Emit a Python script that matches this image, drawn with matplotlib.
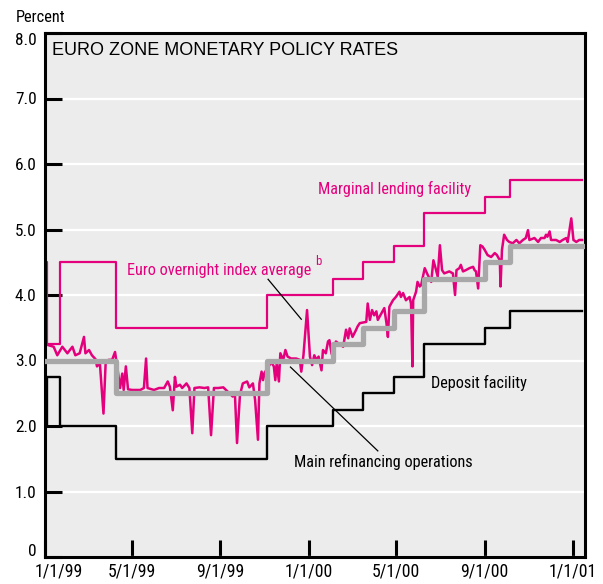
import numpy as np
import pandas as pd
import matplotlib
matplotlib.use("Agg")
import matplotlib.pyplot as plt
from matplotlib import font_manager
from matplotlib.transforms import ScaledTranslation

# policy rate changes (effective dates) and levels, percent
rate_dates = [
    "1999-01-01", "1999-01-04", "1999-01-22", "1999-04-09", "1999-11-05",
    "2000-02-04", "2000-03-17", "2000-04-28", "2000-06-09", "2000-09-01",
    "2000-10-06",
]
marginal_lending = [4.50, 3.25, 4.50, 3.50, 4.00, 4.25, 4.50, 4.75, 5.25, 5.50, 5.75]
deposit_facility = [2.00, 2.75, 2.00, 1.50, 2.00, 2.25, 2.50, 2.75, 3.25, 3.50, 3.75]
main_refi = [3.00, 3.00, 3.00, 2.50, 3.00, 3.25, 3.50, 3.75, 4.25, 4.50, 4.75]
series_end = "2001-01-14"

# EONIA (days after 1 Jan 1999)
eonia_day = [
    3, 12, 17, 24, 31, 38, 42, 48, 54, 56, 61, 65, 70, 72, 76, 81, 84, 88, 93, 97,
    100, 104, 107, 109, 112, 115, 121, 132, 137, 140, 142, 151, 158, 165, 170, 173, 177,
    180, 182, 187, 190, 196, 200, 204, 207, 214, 221, 226, 230, 234, 240, 247, 260,
    263, 266, 270, 274, 280, 283, 288, 291, 295, 297, 300, 302, 304, 311, 313, 317,
    319, 321, 324, 326, 330, 333, 336, 341, 348, 353, 355, 358, 363,
    367, 370, 373, 376, 379, 383, 385, 389, 392, 394, 397, 403, 413, 417, 420, 422,
    426, 431, 433, 436, 445, 447, 450, 453, 456, 459, 461, 466, 470, 473, 475, 477,
    482, 486, 491, 493, 496, 500, 505, 507, 509, 510, 514, 516, 519,
    521, 526, 530, 535, 538, 541, 544, 547, 550, 553, 560, 565, 568, 570, 574, 576,
    579, 583, 588, 593, 595, 597, 600, 603, 606, 609, 613, 618, 623, 626, 630, 631,
    633, 636, 640, 643, 648, 653, 657, 662, 666, 669, 671, 678, 683, 687, 692, 694,
    696, 699, 701, 708, 713, 717, 722, 724, 729, 732, 736, 740, 744,
]
eonia = [
    3.24, 3.21, 3.08, 3.21, 3.11, 3.21, 3.08, 3.11, 3.36, 3.11, 3.16, 3.08, 3.02, 2.91,
    2.96, 2.19, 2.96, 3.01, 3.01, 3.13,
    2.91, 2.58, 2.80, 2.55, 2.91, 2.56, 2.55, 2.55, 2.58, 3.03, 2.58, 2.55, 2.58, 2.58,
    2.68, 2.60, 2.24,
    2.75, 2.60, 2.63, 2.58, 2.65, 2.58, 1.89, 2.58, 2.59, 2.58, 2.59, 1.86, 2.58, 2.58,
    2.59, 2.45, 2.50, 1.74, 2.47, 2.65, 2.68, 2.59, 2.65, 2.40, 1.79, 2.65, 2.83, 2.70,
    2.81, 2.93, 2.98, 2.91, 2.70, 2.96, 2.68, 3.11, 3.01, 3.16, 3.06, 3.03, 3.03, 3.01,
    2.83, 3.08, 3.77,
    3.06, 2.93, 3.08, 3.01, 3.06, 2.85, 3.16, 3.11, 3.29, 3.31, 3.10, 3.29, 3.21, 3.47,
    3.34, 3.49, 3.36, 3.47, 3.52, 3.57, 3.59, 3.87, 3.62, 3.77, 3.69, 3.75, 3.62, 3.72,
    3.80, 3.57, 3.36, 3.82, 3.92, 3.97, 4.05, 3.97, 4.03, 3.92, 3.97, 3.87, 2.91, 3.92,
    4.05, 4.20, 4.13,
    4.15, 4.41, 4.31, 4.20, 4.53, 4.41, 4.28, 4.76, 4.38, 4.33, 4.36, 4.33, 4.00, 4.38,
    4.41, 4.46, 4.36, 4.38, 4.41, 4.43, 4.38, 4.36, 4.10, 4.76, 4.74, 4.69, 4.61, 4.58,
    4.64, 4.61, 4.53, 4.13, 4.69, 4.92, 4.84, 4.81, 4.79, 4.84, 4.79, 4.84, 4.87, 4.99,
    4.84, 4.87, 4.81, 4.87, 4.87, 4.92, 4.89, 4.97, 4.84, 4.84, 4.81, 4.84, 4.87, 4.81,
    5.17, 4.84, 4.81, 4.84, 4.84,
]

tick_dates = ["1999-01-01", "1999-05-01", "1999-09-01", "2000-01-01",
              "2000-05-01", "2000-09-01", "2001-01-01"]
tick_labels = ["1/1/99", "5/1/99", "9/1/99", "1/1/00", "5/1/00", "9/1/00", "1/1/01"]
y_ticks = [0, 1, 2, 3, 4, 5, 6, 7, 8]
y_labels = ["0", "1.0", "2.0", "3.0", "4.0", "5.0", "6.0", "7.0", "8.0"]

MAGENTA = "#e4007c"
GRAY = "#a8a8a8"

# the original uses a condensed grotesque; take the narrowest one installed
installed = {f.name for f in font_manager.fontManager.ttflist}
narrow_choices = [("Liberation Sans Narrow", 1.0), ("Roboto Condensed", 0.97),
                  ("Open Sans Condensed", 0.97), ("Liberation Sans", 0.86)]
NARROW_NAME, fscale = next(((n, s) for n, s in narrow_choices if n in installed),
                           ("DejaVu Sans", 0.8))
NARROW = [NARROW_NAME, "DejaVu Sans"]

start = pd.Timestamp("1999-01-01")
step_x = pd.to_datetime(rate_dates + [series_end])
eonia_x = start + pd.to_timedelta(eonia_day, unit="D")


def steps(vals):
    return list(vals) + [vals[-1]]


fig = plt.figure(figsize=(6.03, 5.84), dpi=100)
ax = fig.add_axes([45 / 603, 1 - 557 / 584, 540 / 603, 524 / 584])
ax.set_facecolor("#ececec")

ax.plot(step_x, steps(marginal_lending), drawstyle="steps-post", color=MAGENTA, lw=1.6, zorder=2)
ax.plot(step_x, steps(deposit_facility), drawstyle="steps-post", color="black", lw=1.7, zorder=2)
ax.plot(eonia_x, eonia, color=MAGENTA, lw=1.8, zorder=2)
ax.plot(step_x, steps(main_refi), drawstyle="steps-post", color=GRAY, lw=3.8, zorder=3)

ax.set_xlim(start, pd.Timestamp("2001-01-18"))
ax.set_ylim(0, 8)

ax.set_yticks(y_ticks)
ax.set_yticklabels(y_labels, family=NARROW, fontsize=12.8 * fscale)
ax.set_xticks(pd.to_datetime(tick_dates))
ax.set_xticklabels(tick_labels, family=NARROW, fontsize=13.2 * fscale)
ax.tick_params(axis="both", direction="in", length=12, width=2.2, color="black")
ax.tick_params(axis="y", pad=6)
ax.tick_params(axis="x", pad=4)
ax.yaxis.grid(True, color="white", lw=1.6)
ax.xaxis.grid(False)
ax.set_axisbelow(True)
for sp in ax.spines.values():
    sp.set_linewidth(2.2)

# nudge end labels like the original
lbl = ax.xaxis.get_major_ticks()[0].label1
lbl.set_transform(lbl.get_transform() + ScaledTranslation(10 / 72, 0, fig.dpi_scale_trans))
yt = ax.yaxis.get_major_ticks()
yt[0].label1.set_transform(yt[0].label1.get_transform() + ScaledTranslation(0, 5 / 72, fig.dpi_scale_trans))
yt[-1].label1.set_transform(yt[-1].label1.get_transform() + ScaledTranslation(0, -4.5 / 72, fig.dpi_scale_trans))

ax.text(0.013, 0.958, "EURO ZONE MONETARY POLICY RATES", transform=ax.transAxes,
        fontsize=13, family=["Liberation Sans", "DejaVu Sans"], va="baseline")
fig.text(16 / 603, 1 - 22 / 584, "Percent", family=NARROW, fontsize=12.2 * fscale, va="baseline")

ann = dict(family=NARROW, fontsize=12.1 * fscale, va="baseline")
ax.text(pd.Timestamp("2000-01-14"), 5.54, "Marginal lending facility", color=MAGENTA, **ann)
t_eo = ax.text(pd.Timestamp("1999-04-24"), 4.31, "Euro overnight index average",
               color=MAGENTA, **ann)
ax.annotate("b", xy=(1, 0.62), xycoords=t_eo, xytext=(3, 0), textcoords="offset points",
            color=MAGENTA, family=NARROW, fontsize=9.5 * fscale, va="bottom")
ax.text(pd.Timestamp("2000-06-18"), 2.58, "Deposit facility", color="black", **ann)
ax.text(pd.Timestamp("1999-12-12"), 1.37, "Main refinancing operations", color="black", **ann)

# leader lines
ax.plot([pd.Timestamp("1999-11-06"), pd.Timestamp("1999-12-22")], [4.24, 3.63],
        color="black", lw=0.9, zorder=4)
ax.plot([pd.Timestamp("1999-12-07"), pd.Timestamp("2000-04-06")], [2.90, 1.62],
        color="black", lw=0.9, zorder=4)

fig.savefig("out.png", dpi=100)
